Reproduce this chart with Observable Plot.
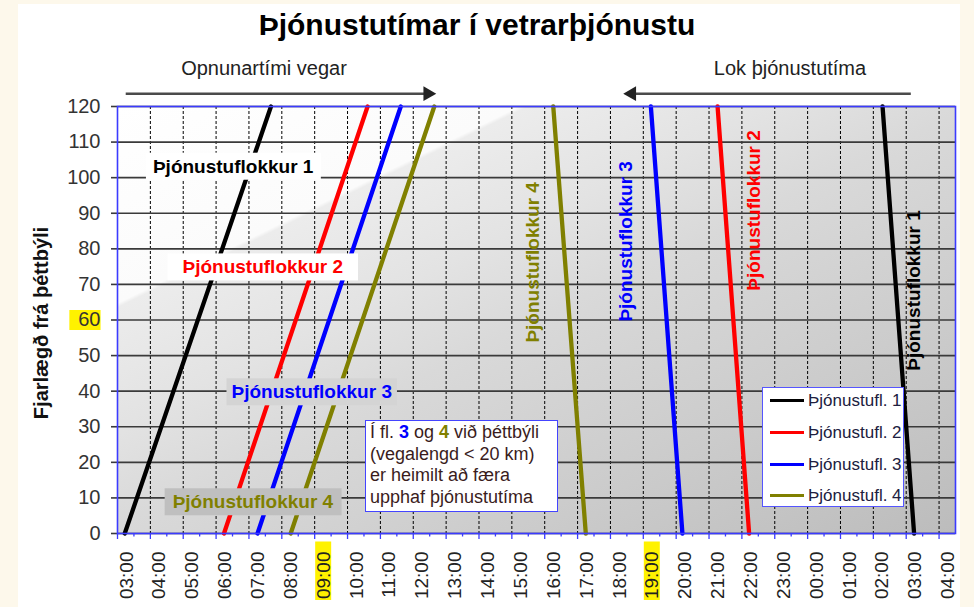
<!DOCTYPE html>
<html>
<head>
<meta charset="utf-8">
<script src="https://cdn.jsdelivr.net/npm/d3@7"></script>
<script src="https://cdn.jsdelivr.net/npm/@observablehq/plot@0.6"></script>
<style>
  html, body { margin: 0; padding: 0; }
  body { width: 974px; height: 607px; background: #fdf8eb; position: relative; overflow: hidden;
         font-family: "Liberation Sans", Arial, sans-serif; }
  #paper { position: absolute; left: 18px; top: 4px; width: 942px; height: 603px; background: #fff; }
  #chart { position: absolute; left: 0; top: 0; }
  .title { position: absolute; left: 0; width: 954px; top: 10px; text-align: center; font-size: 30px;
           line-height: 30px; font-weight: bold; color: #000; }
  .sub { position: absolute; top: 58px; font-size: 20px; line-height: 20px; color: #222; white-space: nowrap;
         transform: translateX(-50%); }
  .ytitle { position: absolute; left: 41px; top: 323px; font-size: 20px; font-weight: bold; color: #111;
            white-space: nowrap; transform: translate(-50%, -50%) rotate(-90deg); }
  .note { position: absolute; left: 365px; top: 420px; width: 193px; height: 92px; box-sizing: border-box;
          border: 1.5px solid #4444ff; background: #fff; padding: 1px 0 0 4px; font-size: 18px;
          line-height: 21.7px; color: #3a1c1c; }
  .legend { position: absolute; left: 762px; top: 387px; width: 142px; height: 120px; box-sizing: border-box;
            border: 1.5px solid #5555ff; background: #fff; }
  .legend .row { position: absolute; left: 0; height: 0; }
  .legend .sw { position: absolute; left: 7px; top: -1.5px; width: 34px; height: 3px; }
  .legend .lt { position: absolute; left: 45px; top: -10px; font-size: 17px; line-height: 20px; color: #202040; white-space: nowrap; }
</style>
</head>
<body>
<div id="paper"></div>
<div id="chart"></div>
<div class="title">Þjónustutímar í vetrarþjónustu</div>
<div class="sub" style="left:264px">Opnunartími vegar</div>
<div class="sub" style="left:790px">Lok þjónustutíma</div>
<div class="ytitle">Fjarlægð frá þéttbýli</div>
<div class="note">Í fl. <b style="color:#0000ff">3</b> og <b style="color:#808000">4</b> við þéttbýli<br>(vegalengd &lt; 20 km)<br>er heimilt að færa<br>upphaf þjónustutíma</div>
<div class="legend" id="legend"></div>
<script>
// ---------- data ----------
const classes = ["Þjónustufl. 1", "Þjónustufl. 2", "Þjónustufl. 3", "Þjónustufl. 4"];
const colors = ["#000000", "#ff0000", "#0000ff", "#808000"];
const distances = [0, 120];                       // km
const openAt0km = [3.22, 6.24, 7.26, 8.27];       // hour of day
const openAt120km = [7.67, 10.61, 11.62, 12.64];
const closeAt120km = [26.28, 21.26, 19.23, 16.26]; // hours past midnight continue (>24 = next day)
const closeAt0km = [27.24, 22.22, 20.19, 17.25];
const hourTicks = d3.range(3, 29);                // 03:00 .. 04:00 next day
const halfHourTicks = d3.range(3.5, 28.5, 1);
const kmTicks = d3.range(0, 121, 10);
const highlightHours = [9, 19];
const highlightKm = [60];

// annotations (positions in data units)
const boxedLabels = [
  {text: "Þjónustuflokkur 1", h: 6.52, km: 103.1, color: "#000000", bg: "#ffffff"},
  {text: "Þjónustuflokkur 2", h: 7.42, km: 74.8, color: "#ff0000", bg: "#ffffff"},
  {text: "Þjónustuflokkur 3", h: 8.91, km: 39.7, color: "#0000ff", bg: "#d4d4d4"},
  {text: "Þjónustuflokkur 4", h: 7.12, km: 8.8, color: "#808000", bg: "#bfbfbf"}
];
const boxPadX = [7, 15, 5, 8];
const rotatedLabels = [
  {text: "Þjónustuflokkur 4", h: 15.64, km: 76.2, color: "#808000"},
  {text: "Þjónustuflokkur 3", h: 18.47, km: 82.1, color: "#0000ff"},
  {text: "Þjónustuflokkur 2", h: 22.36, km: 90.8, color: "#ff0000"},
  {text: "Þjónustuflokkur 1", h: 27.23, km: 68.3, color: "#000000"}
];
const arrowKm = 123.6;
const arrows = [{from: 3.25, to: 12.44}, {from: 27.14, to: 18.65}];

// ---------- build rows ----------
const rows = [];
classes.forEach((c, i) => {
  rows.push({cls: c, key: c + " open", h: openAt0km[i], km: distances[0]});
  rows.push({cls: c, key: c + " open", h: openAt120km[i], km: distances[1]});
  rows.push({cls: c, key: c + " close", h: closeAt120km[i], km: distances[1]});
  rows.push({cls: c, key: c + " close", h: closeAt0km[i], km: distances[0]});
});

const fmt = h => String(Math.round(h) % 24).padStart(2, "0") + ":00";
const blue = "#3b3bff";
const yellow = "#fff200";

const plot = Plot.plot({
  width: 974, height: 607,
  marginLeft: 117, marginRight: 19, marginTop: 106, marginBottom: 74,
  style: {background: "transparent", fontFamily: "Liberation Sans, Arial, sans-serif", overflow: "visible"},
  x: {domain: [3, 28.5], axis: null},
  y: {domain: [0, 120], axis: null},
  color: {domain: classes, range: colors},
  marks: [
    Plot.frame({fill: "url(#bgGrad)"}),
    Plot.ruleX(hourTicks.filter(h => h > 3), {stroke: "#000", strokeWidth: 1, strokeDasharray: "3,2"}),
    Plot.ruleY(kmTicks, {stroke: "#3a3a3a", strokeWidth: 1.6}),
    // highlights
    Plot.ruleX(highlightHours, {x: d => d, y1: -2.4, y2: -18.8, stroke: yellow, strokeWidth: 16, dx: 8.5}),
    Plot.ruleY(highlightKm, {y: d => d, x1: 1.55, x2: 2.5, stroke: yellow, strokeWidth: 20}),
    // axes
    Plot.axisY(kmTicks, {tickSize: 6, tickPadding: 11, stroke: "#3a3a3a", strokeWidth: 1.6, fill: "#333",
                         fontSize: 20, label: null}),
    Plot.axisX(hourTicks, {tickSize: 6, stroke: blue, strokeWidth: 1.3, tickFormat: () => "", label: null}),
    Plot.axisX(halfHourTicks, {tickSize: 3.5, stroke: blue, strokeWidth: 1.3, tickFormat: () => "", label: null}),
    Plot.axisX(hourTicks, {tickSize: 0, tickPadding: 18, tickRotate: -90, dx: 9, fill: "#222", fontSize: 19,
                           tickFormat: fmt, label: null}),
    // data lines
    Plot.line(rows, {x: "h", y: "km", z: "key", stroke: "cls", strokeWidth: 4.3}),
    // labels
    Plot.text(boxedLabels, {x: "h", y: "km", text: "text", fill: "color", fontWeight: "bold", fontSize: 19,
                            className: "boxlbl"}),
    Plot.text(rotatedLabels, {x: "h", y: "km", text: "text", fill: "color", fontWeight: "bold", fontSize: 19,
                              rotate: -90}),
    Plot.frame({stroke: blue, strokeWidth: 1.6}),
    // arrows
    Plot.link(arrows, {x1: "from", x2: "to", y1: arrowKm, y2: arrowKm, stroke: "#4a4a4a", strokeWidth: 2.5}),
    Plot.dot(arrows, {x: "to", y: arrowKm, symbol: "triangle", r: 5.5, fill: "#222", stroke: "none",
                      rotate: d => (d.to > d.from ? 90 : -90)})
  ]
});

document.getElementById("chart").appendChild(plot);

// gradient background of the plot area
const ns = "http://www.w3.org/2000/svg";
const xs = plot.scale("x"), ys = plot.scale("y");
const x0 = xs.range[0], x1 = xs.range[1], y0 = ys.range[1], y1 = ys.range[0];
const ux = 0.44, uy = 0.898;
const L = (x1 - x0) * ux + (y1 - y0) * uy;
const defs = document.createElementNS(ns, "defs");
defs.innerHTML = `<linearGradient id="bgGrad" gradientUnits="userSpaceOnUse" x1="${x0}" y1="${y0}" x2="${x0 + L * ux}" y2="${y0 + L * uy}">
  <stop offset="0" stop-color="#ffffff"/>
  <stop offset="0.235" stop-color="#fbfbfb"/>
  <stop offset="0.24" stop-color="#ececec"/>
  <stop offset="0.38" stop-color="#e3e3e3"/>
  <stop offset="0.5" stop-color="#d9d9d9"/>
  <stop offset="0.75" stop-color="#cbcbcb"/>
  <stop offset="1" stop-color="#bcbcbc"/>
</linearGradient>`;
plot.insertBefore(defs, plot.firstChild);

// boxes behind boxed labels
const g = plot.querySelector("g.boxlbl");
if (g) {
  const texts = Array.from(g.querySelectorAll("text"));
  texts.forEach((t, i) => {
    const bb = t.getBBox();
    const px = boxPadX[i];
    const r = document.createElementNS(ns, "rect");
    r.setAttribute("x", bb.x - px);
    r.setAttribute("y", bb.y - 3);
    r.setAttribute("width", bb.width + 2 * px);
    r.setAttribute("height", bb.height + 6);
    if (t.getAttribute("transform")) r.setAttribute("transform", t.getAttribute("transform"));
    r.setAttribute("fill", boxedLabels[i].bg);
    r.setAttribute("stroke", "none");
    g.insertBefore(r, t);
  });
}

// legend
const legend = document.getElementById("legend");
const rowTops = [12.5, 44.5, 76.5, 107.5];
classes.forEach((c, i) => {
  const row = document.createElement("div");
  row.className = "row";
  row.style.top = rowTops[i] + "px";
  row.innerHTML = `<div class="sw" style="background:${colors[i]}"></div><div class="lt">${c}</div>`;
  legend.appendChild(row);
});
</script>
</body>
</html>
